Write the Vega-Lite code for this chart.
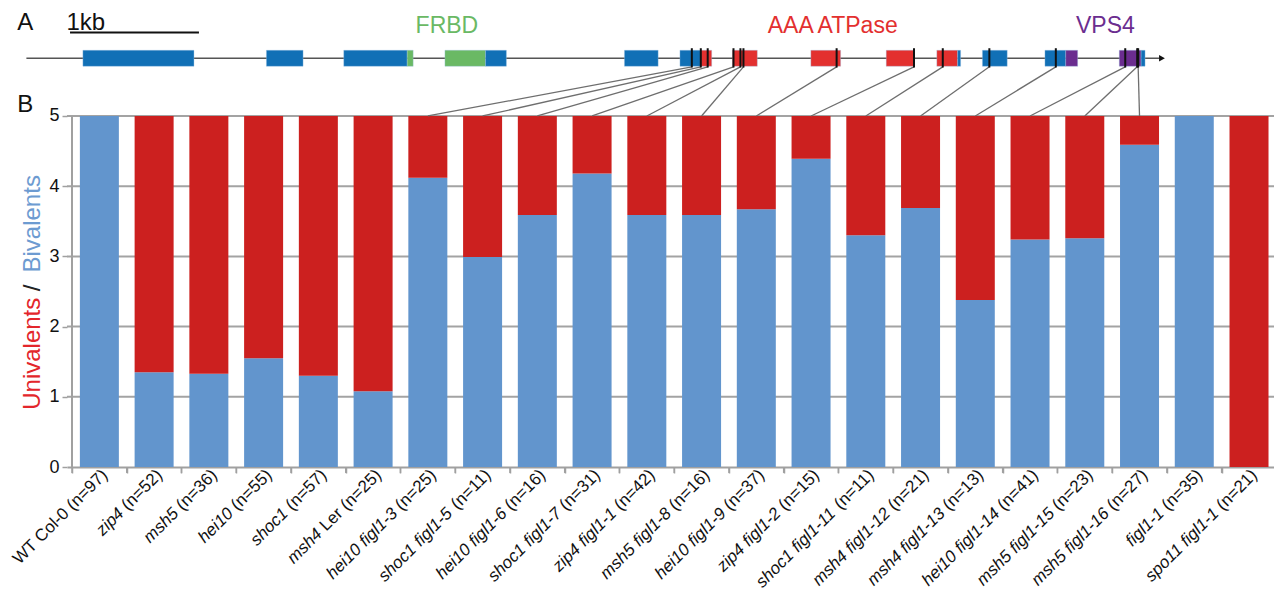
{
  "$schema": "https://vega.github.io/schema/vega-lite/v6.json",
  "width": 1207,
  "height": 467,
  "autosize": {"type": "none"},
  "padding": {"left": 67, "top": 0, "right": 0, "bottom": 125},
  "background": "white",
  "config": {"view": {"stroke": null}, "font": "Liberation Sans"},
  "resolve": {"axis": {"x": "independent", "y": "independent"}},
  "datasets": {
    "bars": [
      {"idx": 0, "it": "", "up": "WT Col-0", "n": "(n=97)", "biv": 5},
      {"idx": 1, "it": "zip4", "up": "", "n": "(n=52)", "biv": 1.35},
      {"idx": 2, "it": "msh5", "up": "", "n": "(n=36)", "biv": 1.33},
      {"idx": 3, "it": "hei10", "up": "", "n": "(n=55)", "biv": 1.55},
      {"idx": 4, "it": "shoc1", "up": "", "n": "(n=57)", "biv": 1.30},
      {"idx": 5, "it": "msh4", "up": "Ler", "n": "(n=25)", "biv": 1.08},
      {"idx": 6, "it": "hei10 figl1-3", "up": "", "n": "(n=25)", "biv": 4.12},
      {"idx": 7, "it": "shoc1 figl1-5", "up": "", "n": "(n=11)", "biv": 2.99},
      {"idx": 8, "it": "hei10 figl1-6", "up": "", "n": "(n=16)", "biv": 3.59},
      {"idx": 9, "it": "shoc1 figl1-7", "up": "", "n": "(n=31)", "biv": 4.18},
      {"idx": 10, "it": "zip4 figl1-1", "up": "", "n": "(n=42)", "biv": 3.59},
      {"idx": 11, "it": "msh5 figl1-8", "up": "", "n": "(n=16)", "biv": 3.59},
      {"idx": 12, "it": "hei10 figl1-9", "up": "", "n": "(n=37)", "biv": 3.67},
      {"idx": 13, "it": "zip4 figl1-2", "up": "", "n": "(n=15)", "biv": 4.39},
      {"idx": 14, "it": "shoc1 figl1-11", "up": "", "n": "(n=11)", "biv": 3.30},
      {"idx": 15, "it": "msh4 figl1-12", "up": "", "n": "(n=21)", "biv": 3.69},
      {"idx": 16, "it": "msh4 figl1-13", "up": "", "n": "(n=13)", "biv": 2.38},
      {"idx": 17, "it": "hei10 figl1-14", "up": "", "n": "(n=41)", "biv": 3.24},
      {"idx": 18, "it": "msh5 figl1-15", "up": "", "n": "(n=23)", "biv": 3.26},
      {"idx": 19, "it": "msh5 figl1-16", "up": "", "n": "(n=27)", "biv": 4.59},
      {"idx": 20, "it": "figl1-1", "up": "", "n": "(n=35)", "biv": 5},
      {"idx": 21, "it": "spo11 figl1-1", "up": "", "n": "(n=21)", "biv": 0}
    ],
    "grid": [
      {"v": 1}, {"v": 2}, {"v": 3}, {"v": 4}, {"v": 5}
    ],
    "xticks": [
      {"p": -0.5}, {"p": 0.5}, {"p": 1.5}, {"p": 2.5}, {"p": 3.5}, {"p": 4.5}, {"p": 5.5}, {"p": 6.5},
      {"p": 7.5}, {"p": 8.5}, {"p": 9.5}, {"p": 10.5}, {"p": 11.5}, {"p": 12.5}, {"p": 13.5},
      {"p": 14.5}, {"p": 15.5}, {"p": 16.5}, {"p": 17.5}, {"p": 18.5}, {"p": 19.5}, {"p": 20.5}
    ],
    "exons": [
      {"x1": -0.301, "x2": 1.728, "k": "exon"},
      {"x1": 3.051, "x2": 3.721, "k": "exon"},
      {"x1": 4.464, "x2": 5.623, "k": "exon"},
      {"x1": 5.623, "x2": 5.732, "k": "FRBD"},
      {"x1": 6.312, "x2": 7.054, "k": "FRBD"},
      {"x1": 7.054, "x2": 7.435, "k": "exon"},
      {"x1": 9.591, "x2": 10.207, "k": "exon"},
      {"x1": 10.605, "x2": 10.986, "k": "exon"},
      {"x1": 10.986, "x2": 11.185, "k": "AAA"},
      {"x1": 11.565, "x2": 12.018, "k": "AAA"},
      {"x1": 12.996, "x2": 13.54, "k": "AAA"},
      {"x1": 14.373, "x2": 14.88, "k": "AAA"},
      {"x1": 15.297, "x2": 15.678, "k": "AAA"},
      {"x1": 15.678, "x2": 15.732, "k": "exon"},
      {"x1": 16.13, "x2": 16.583, "k": "exon"},
      {"x1": 17.272, "x2": 17.652, "k": "exon"},
      {"x1": 17.652, "x2": 17.87, "k": "VPS4"},
      {"x1": 18.63, "x2": 19.029, "k": "VPS4"},
      {"x1": 19.029, "x2": 19.101, "k": "exon"}
    ],
    "mutations": [
      {"pos": 10.822, "bar": 6},
      {"pos": 10.986, "bar": 7},
      {"pos": 11.112, "bar": 8},
      {"pos": 11.583, "bar": 9},
      {"pos": 11.71, "bar": 10},
      {"pos": 11.765, "bar": 11},
      {"pos": 13.467, "bar": 12},
      {"pos": 14.88, "bar": 13},
      {"pos": 15.406, "bar": 14},
      {"pos": 16.257, "bar": 15},
      {"pos": 17.471, "bar": 16},
      {"pos": 18.739, "bar": 17},
      {"pos": 18.957, "bar": 18},
      {"pos": 18.975, "bar": 19}
    ],
    "gene": [{"start": -1.333, "end": 19.36, "tip": 19.41, "level": 5.822}],
    "scalebar": [{"from": -0.536, "to": 1.819, "level": 6.188}],
    "panelText": [
      {"t": "A", "x": -1.5, "y": 6.221},
      {"t": "B", "x": -1.5, "y": 5.053},
      {"t": "1kb", "x": -0.6, "y": 6.221}
    ],
    "domainText": [
      {"t": "FRBD", "x": 6.348, "y": 6.178, "k": "FRBD"},
      {"t": "AAA ATPase", "x": 13.395, "y": 6.178, "k": "AAA"},
      {"t": "VPS4", "x": 18.377, "y": 6.178, "k": "VPS4"}
    ],
    "yTitle": [
      {"t": "Univalents", "x": -1.08, "y": 1.613, "k": "Univalents"},
      {"t": "/", "x": -1.08, "y": 2.55, "k": "/"},
      {"t": "Bivalents", "x": -1.08, "y": 3.464, "k": "Bivalents"}
    ]
  },
  "layer": [
    {
      "data": {"name": "grid"},
      "mark": {"type": "rule", "color": "#a3a3a3", "strokeWidth": 2},
      "encoding": {
        "y": {
          "field": "v", "type": "quantitative",
          "scale": {"domain": [0, 6.652], "nice": false, "zero": true},
          "axis": {
            "title": null, "values": [0, 1, 2, 3, 4, 5], "domain": false, "format": "d",
            "grid": false,
            "tickColor": "#a0a0a0", "tickWidth": 1.5, "tickSize": 5,
            "labelFont": "Liberation Sans", "labelFontSize": 18, "labelColor": "#111111",
            "labelPadding": 3
          }
        }
      }
    },
    {
      "data": {"name": "bars"},
      "mark": {"type": "bar", "size": 39, "color": "#6295cd"},
      "encoding": {
        "x": {
          "field": "idx", "type": "quantitative",
          "scale": {"domain": [-0.5, 21.365], "nice": false, "zero": false},
          "axis": {
            "title": null, "labels": false, "grid": false,
            "values": [-0.5, 0.5, 1.5, 2.5, 3.5, 4.5, 5.5, 6.5, 7.5, 8.5, 9.5, 10.5, 11.5, 12.5, 13.5, 14.5, 15.5, 16.5, 17.5, 18.5, 19.5, 20.5],
            "domainColor": "#a0a0a0", "domainWidth": 2,
            "tickColor": "#a0a0a0", "tickWidth": 1.5, "tickSize": 6
          }
        },
        "y": {"field": "biv", "type": "quantitative", "axis": null},
        "y2": {"datum": 0}
      }
    },
    {
      "data": {"name": "bars"},
      "mark": {"type": "bar", "size": 39, "color": "#cc201f"},
      "encoding": {
        "x": {"field": "idx", "type": "quantitative", "axis": null},
        "y": {"field": "biv", "type": "quantitative", "axis": null},
        "y2": {"datum": 5}
      }
    },
    {
      "data": {"name": "xticks"},
      "mark": {"type": "rule", "color": "#a0a0a0", "strokeWidth": 1.5},
      "encoding": {
        "x": {"field": "p", "type": "quantitative", "axis": null},
        "y": {"datum": 0, "type": "quantitative", "axis": null},
        "y2": {"datum": -0.085}
      }
    },
    {
      "data": {"name": "xticks"},
      "transform": [{"filter": "datum.p < 0"}],
      "mark": {"type": "rule", "color": "#a0a0a0", "strokeWidth": 2},
      "encoding": {
        "x": {"field": "p", "type": "quantitative", "axis": null},
        "y": {"datum": 0, "type": "quantitative", "axis": null},
        "y2": {"datum": 5}
      }
    },
    {
      "data": {"name": "gene"},
      "mark": {"type": "rule", "color": "#555555", "strokeWidth": 1.3},
      "encoding": {
        "x": {"field": "start", "type": "quantitative", "axis": null},
        "x2": {"field": "end"},
        "y": {"field": "level", "type": "quantitative", "axis": null}
      }
    },
    {
      "data": {"name": "gene"},
      "mark": {"type": "point", "shape": "triangle-right", "filled": true, "color": "#111111", "size": 45, "opacity": 1},
      "encoding": {
        "x": {"field": "tip", "type": "quantitative", "axis": null},
        "y": {"field": "level", "type": "quantitative", "axis": null}
      }
    },
    {
      "data": {"name": "exons"},
      "mark": {"type": "rect", "stroke": "#9fc3e6", "strokeWidth": 0.6, "strokeOpacity": 0.6},
      "encoding": {
        "x": {"field": "x1", "type": "quantitative", "axis": null},
        "x2": {"field": "x2"},
        "y": {"datum": 5.708, "type": "quantitative", "axis": null},
        "y2": {"datum": 5.936},
        "color": {
          "field": "k", "type": "nominal", "legend": null,
          "scale": {
            "domain": ["exon", "FRBD", "AAA", "VPS4", "Univalents", "/", "Bivalents"],
            "range": ["#1170b6", "#6ab964", "#e3302f", "#6b2d8f", "#e3262b", "#222222", "#6d9bd1"]
          }
        }
      }
    },
    {
      "data": {"name": "mutations"},
      "mark": {"type": "rule", "color": "#6e6e6e", "strokeWidth": 1.3},
      "encoding": {
        "x": {"field": "pos", "type": "quantitative", "axis": null},
        "x2": {"field": "bar"},
        "y": {"datum": 5.70, "type": "quantitative", "axis": null},
        "y2": {"datum": 5.0}
      }
    },
    {
      "data": {"name": "mutations"},
      "mark": {"type": "rule", "color": "#111111", "strokeWidth": 2},
      "encoding": {
        "x": {"field": "pos", "type": "quantitative", "axis": null},
        "y": {"datum": 5.69, "type": "quantitative", "axis": null},
        "y2": {"datum": 5.965}
      }
    },
    {
      "data": {"name": "scalebar"},
      "mark": {"type": "rule", "color": "#111111", "strokeWidth": 2},
      "encoding": {
        "x": {"field": "from", "type": "quantitative", "axis": null},
        "x2": {"field": "to"},
        "y": {"field": "level", "type": "quantitative", "axis": null}
      }
    },
    {
      "data": {"name": "panelText"},
      "mark": {"type": "text", "align": "left", "baseline": "alphabetic", "fontSize": 24, "color": "#111111", "font": "Liberation Sans"},
      "encoding": {
        "x": {"field": "x", "type": "quantitative", "axis": null},
        "y": {"field": "y", "type": "quantitative", "axis": null},
        "text": {"field": "t"}
      }
    },
    {
      "data": {"name": "domainText"},
      "mark": {"type": "text", "align": "center", "baseline": "alphabetic", "fontSize": 23, "font": "Liberation Sans"},
      "encoding": {
        "x": {"field": "x", "type": "quantitative", "axis": null},
        "y": {"field": "y", "type": "quantitative", "axis": null},
        "text": {"field": "t"},
        "color": {"field": "k", "type": "nominal", "legend": null}
      }
    },
    {
      "data": {"name": "yTitle"},
      "mark": {"type": "text", "align": "center", "baseline": "alphabetic", "angle": 270, "fontSize": 24, "font": "Liberation Sans"},
      "encoding": {
        "x": {"field": "x", "type": "quantitative", "axis": null},
        "y": {"field": "y", "type": "quantitative", "axis": null},
        "text": {"field": "t"},
        "color": {"field": "k", "type": "nominal", "legend": null}
      }
    },
    {
      "data": {"name": "bars"},
      "mark": {"type": "text", "align": "right", "baseline": "alphabetic", "angle": 315, "fontSize": 17, "font": "Liberation Sans", "color": "#111111", "dx": 0, "dy": 12.8},
      "encoding": {
        "x": {"field": "idx", "type": "quantitative", "axis": null},
        "y": {"datum": 0, "type": "quantitative", "axis": null},
        "text": {"field": "n"}
      }
    },
    {
      "data": {"name": "bars"},
      "transform": [{"filter": "datum.up != ''"}],
      "mark": {"type": "text", "align": "right", "baseline": "alphabetic", "angle": 315, "fontSize": 17, "font": "Liberation Sans", "color": "#111111", "dx": -54.3, "dy": 12.8},
      "encoding": {
        "x": {"field": "idx", "type": "quantitative", "axis": null},
        "y": {"datum": 0, "type": "quantitative", "axis": null},
        "text": {"field": "up"}
      }
    },
    {
      "data": {"name": "bars"},
      "transform": [{"filter": "datum.up == '' && datum.it != ''"}],
      "mark": {"type": "text", "align": "right", "baseline": "alphabetic", "angle": 315, "fontSize": 17, "font": "Liberation Sans", "fontStyle": "italic", "color": "#111111", "dx": -54.3, "dy": 12.8},
      "encoding": {
        "x": {"field": "idx", "type": "quantitative", "axis": null},
        "y": {"datum": 0, "type": "quantitative", "axis": null},
        "text": {"field": "it"}
      }
    },
    {
      "data": {"name": "bars"},
      "transform": [{"filter": "datum.up != '' && datum.it != ''"}],
      "mark": {"type": "text", "align": "right", "baseline": "alphabetic", "angle": 315, "fontSize": 17, "font": "Liberation Sans", "fontStyle": "italic", "color": "#111111", "dx": -83.6, "dy": 12.8},
      "encoding": {
        "x": {"field": "idx", "type": "quantitative", "axis": null},
        "y": {"datum": 0, "type": "quantitative", "axis": null},
        "text": {"field": "it"}
      }
    }
  ]
}
